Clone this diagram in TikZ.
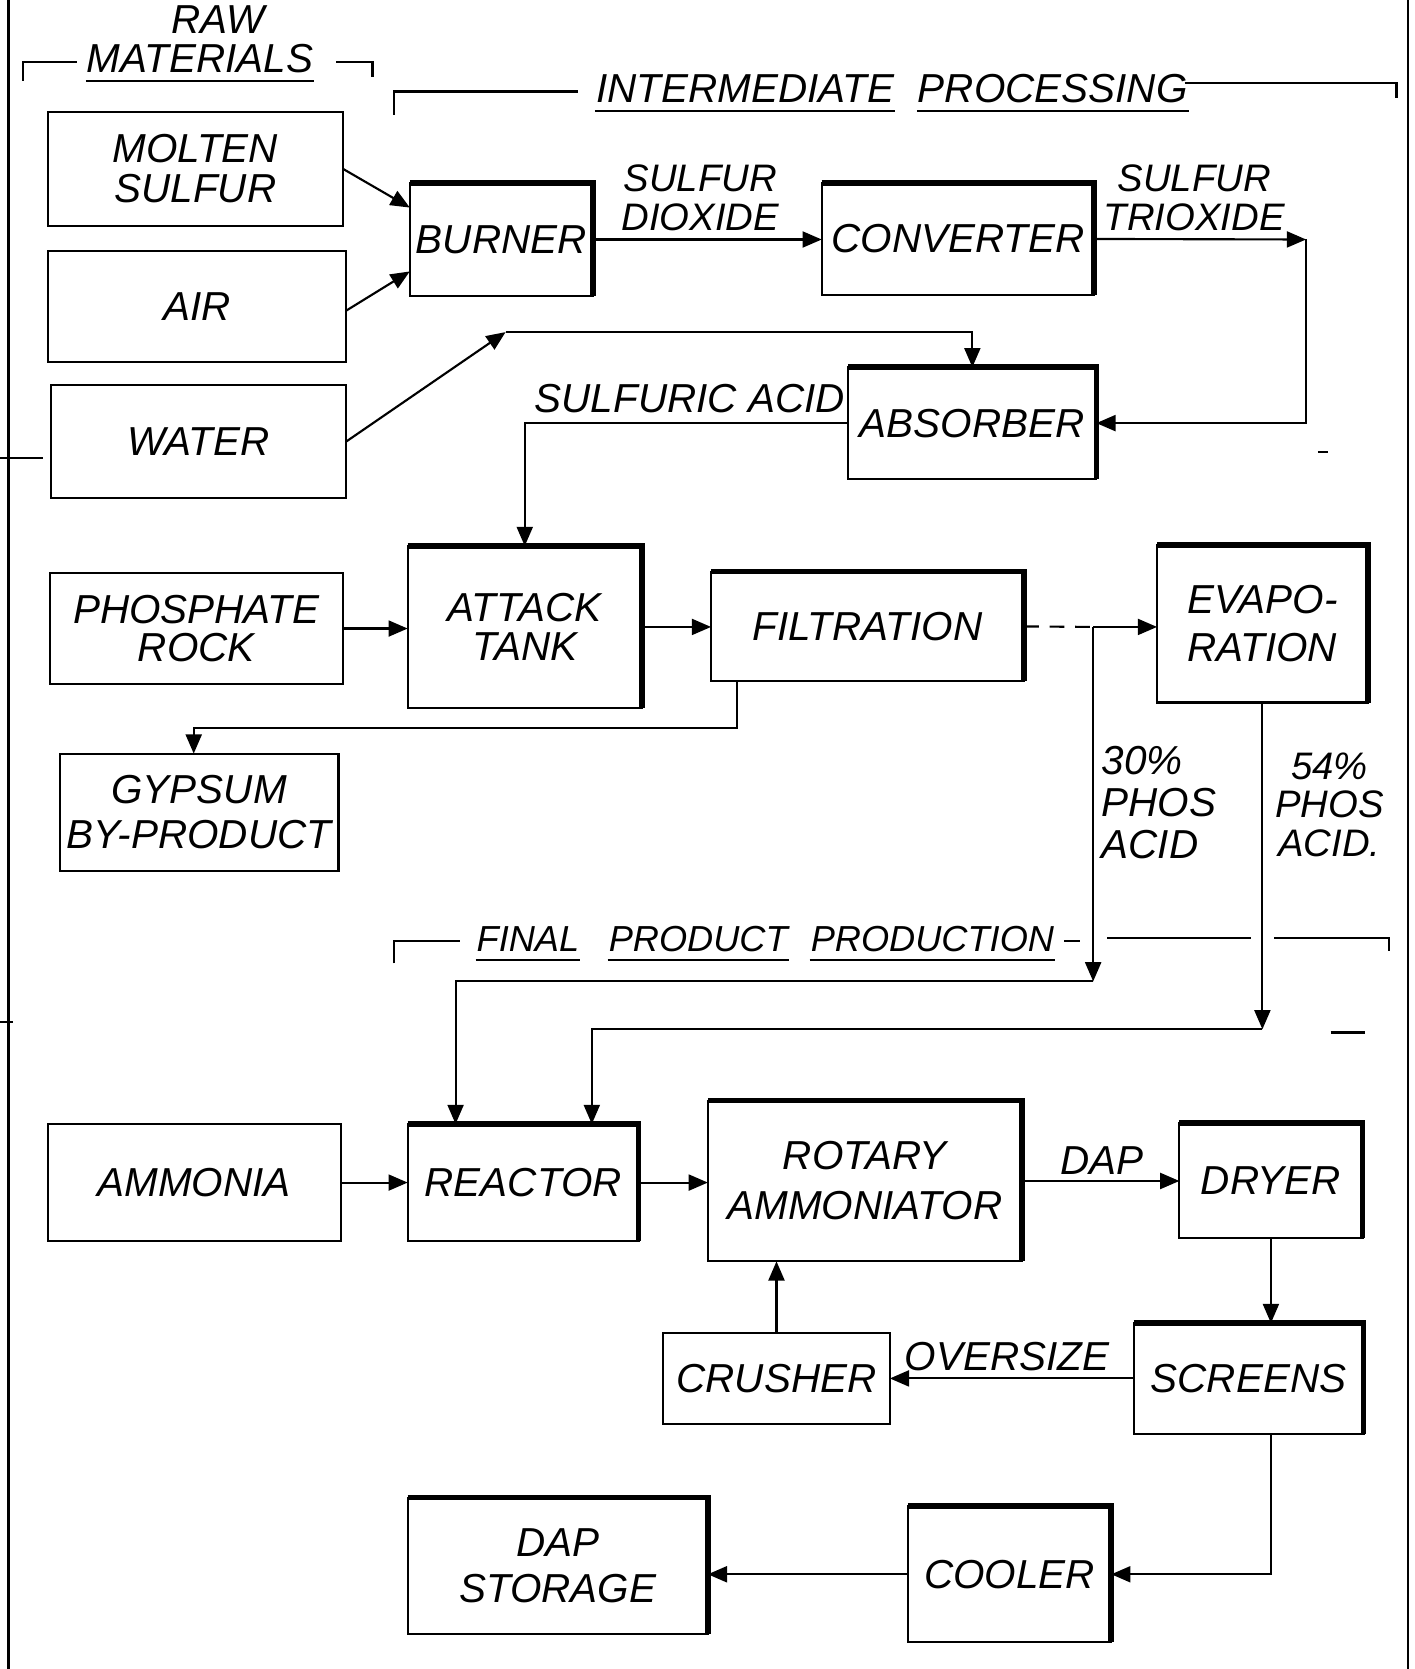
\documentclass[tikz,border=0pt]{standalone}
\usepackage{fontspec}
\setmainfont{Liberation Sans}
\usetikzlibrary{arrows.meta,calc}
\begin{document}
\begin{tikzpicture}[x=0.5pt,y=-0.5pt, line width=1pt, line join=miter,
  >={Triangle[length=9pt,width=7.5pt]},
  bx/.style n args={5}{draw, inner sep=0pt, outer sep=0pt,
    minimum width={(#3-#1)*0.5pt}, minimum height={(#4-#2)*0.5pt},
    at={({(#1+#3)/2},{(#2+#4)/2})},
    font=\fontsize{19}{#5}\selectfont\itshape, align=center},
  lbl/.style={inner sep=0pt, font=\fontsize{19}{#1}\selectfont\itshape, align=center},
  lbl/.default=19,
  lbls/.style={inner sep=0pt, font=\fontsize{18}{#1}\selectfont\itshape, align=center},
  hdrs/.style={inner sep=0pt, font=\fontsize{17}{17}\selectfont\itshape},
  heavy/.style={line width=2.6pt},
  frame/.style={line width=1pt}]
\useasboundingbox (0,0) rectangle (1329,1568);

% page frame lines and marks
\draw[frame] (8,0) -- (8,1568);
\draw[frame] (1323,0) -- (1323,1568);
\draw (0,430) -- (40,430);
\draw (0,960) -- (12,960);
\draw (1238,425) -- (1248,425);
\draw (1250,970) -- (1282,970);

% boxes
\node[bx={45}{105}{322}{212}{18.5}] (molten) {MOLTEN\\SULFUR};
\node[bx={45}{236}{325}{340}{19}] (air) {AIR};
\node[bx={48}{362}{325}{468}{19}] (water) {WATER};
\node[bx={385}{172}{557}{278}{19}] (burner) {BURNER};
\node[bx={772}{172}{1028}{277}{19}] (converter) {CONVERTER};
\node[bx={797}{345}{1030}{450}{19}] (absorber) {ABSORBER};
\node[bx={47}{538}{322}{643}{18}] (rock) {PHOSPHATE\\ROCK};
\node[bx={383}{513}{603}{665}{18.5}] (attack) {ATTACK\\TANK};
\node[bx={668}{537}{962}{640}{19}] (filtration) {FILTRATION};
\node[bx={1087}{512}{1285}{660}{22.5}, align=left] (evap) {EVAPO-\\RATION};
\node[bx={56}{708}{318}{818}{21}] (gypsum) {GYPSUM\\BY-PRODUCT};
\node[bx={45}{1056}{320}{1166}{19}] (ammonia) {AMMONIA};
\node[bx={383}{1056}{600}{1166}{19}] (reactor) {REACTOR};
\node[bx={665}{1034}{960}{1185}{23.5}] (rotary) {ROTARY\\AMMONIATOR};
\node[bx={1108}{1055}{1280}{1163}{19}] (dryer) {DRYER};
\node[bx={623}{1252}{836}{1338}{19}] (crusher) {CRUSHER};
\node[bx={1065}{1243}{1281}{1347}{19}] (screens) {SCREENS};
\node[bx={853}{1415}{1044}{1543}{19}] (cooler) {COOLER};
\node[bx={383}{1407}{665}{1535}{21.5}] (storage) {DAP\\STORAGE};

\foreach \n in {burner,converter,absorber,attack,filtration,evap,reactor,rotary,dryer,screens,cooler,storage}
  \draw[heavy] (\n.north west) -- (\n.north east) -- (\n.south east);

% headers
\node[lbl] (raw) at (205,18) {RAW};
\node[lbl] (mat) at (188,55) {MATERIALS};
\node[lbl] (inter) at (700,83) {INTERMEDIATE};
\node[lbl] (proc) at (989,83) {PROCESSING};
\node[hdrs] (final) at (496,882) {FINAL};
\node[hdrs] (prod) at (656,882) {PRODUCT};
\node[hdrs] (produc) at (876,882) {PRODUCTION};
\foreach \n in {mat,inter,proc,final,prod,produc}
  \draw ([yshift=-3.5pt]\n.south west) -- ([yshift=-3.5pt]\n.south east);

% brackets
\draw (22,76) -- (22,58) -- (72,58);
\draw (316,58) -- (350,58) -- (350,72);
\draw (370,108) -- (370,86) -- (543,86);
\draw (1113,78) -- (1312,78) -- (1312,92);
\draw (370,905) -- (370,884) -- (432,884);
\draw (1000,884) -- (1015,884);
\draw (1040,881) -- (1175,881);
\draw (1197,881) -- (1305,881) -- (1305,893);

% flow labels
\node[lbls=18.5] (so2) at (658,186) {SULFUR\\DIOXIDE};
\node[lbls=18.5] (so3) at (1122,186) {SULFUR\\TRIOXIDE};
\node[lbl] (h2so4) at (648,374) {SULFURIC ACID};
\node[lbl=19.5, align=left, anchor=west] (p30) at (1034,754) {30\%\\PHOS\\ACID};
\node[lbls=18] (p54) at (1249,756) {54\%\\PHOS\\ACID.};
\node[lbl] (dap) at (1035,1090) {DAP};
\node[lbl] (over) at (946,1274) {OVERSIZE};

% connectors
\draw[->] (molten.east) -- ([yshift=15pt]burner.west);
\draw[->] ([yshift=-2pt]air.east) -- ([yshift=-15pt]burner.west);
\coordinate (w1) at (475,312);
\draw[->] (water.east) -- (w1);
\draw[->] (w1) -| (absorber.north);
\draw[->] (burner.east) -- (converter.west |- burner.east);
\coordinate (t1) at (1227,225);
\draw[->] (converter.east) -- (t1);
\draw[->] (t1) |- (absorber.east);
\draw[->] (absorber.west) -| (attack.north);
\draw[->] (rock.east) -- (attack.west |- rock.east);
\draw[->] (attack.east) -- (filtration.west |- attack.east);
\coordinate (g1) at (182,684);
\draw[->] ([xshift=12pt]filtration.south west) |- (g1) -- (g1 |- gypsum.north);
\coordinate (j30) at (1027,589);
\draw[dash pattern=on 7pt off 5pt] (filtration.east) -- (j30);
\draw[->] (j30) -- (evap.west |- j30);
\coordinate (c30) at (1027,922);
\draw[->] (j30) -- (c30);
\draw[->] (c30) -| ([xshift=22.5pt]reactor.north west);
\coordinate (c54) at (1186,967);
\draw[->] (evap.south) -- (c54);
\draw[->] (c54) -| ([xshift=-22pt]reactor.north east);
\draw[->] (ammonia.east) -- (reactor.west |- ammonia.east);
\draw[->] (reactor.east) -- (rotary.west |- reactor.east);
\draw[->] (rotary.east) -- (dryer.west |- rotary.east);
\draw[->] (dryer.south) -- (dryer.south |- screens.north);
\draw[->] (screens.west) -- (crusher.east |- screens.west);
\draw[->] (crusher.north) -- (crusher.north |- rotary.south);
\draw[->] (dryer.south |- screens.south) |- (cooler.east);
\draw[->] (cooler.west) -- (storage.east |- cooler.west);
\end{tikzpicture}
\end{document}
